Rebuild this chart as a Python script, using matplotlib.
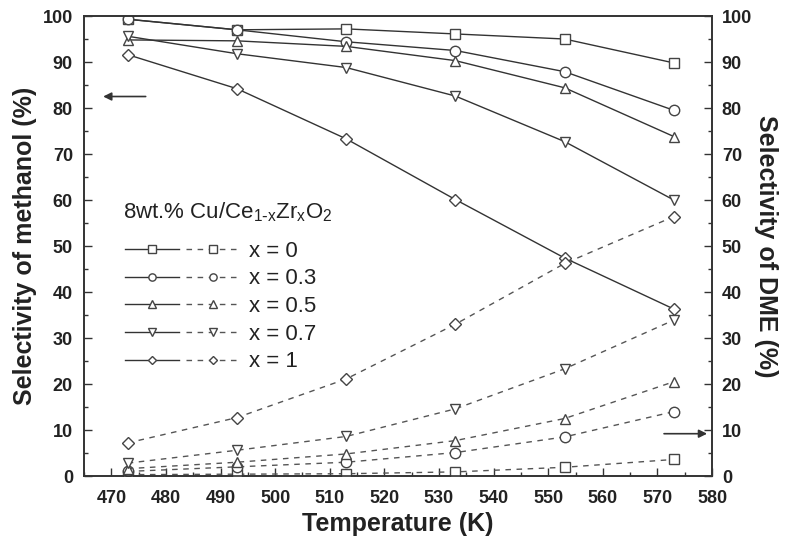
"""
Methanol / DME selectivity versus temperature for 8wt.% Cu/Ce(1-x)Zr(x)O2.
"""

import matplotlib
matplotlib.use("Agg")
import matplotlib.pyplot as plt
from matplotlib.legend_handler import HandlerTuple
from matplotlib.ticker import MultipleLocator

plt.rcParams["font.family"] = ["Liberation Sans", "DejaVu Sans"]
plt.rcParams["mathtext.default"] = "regular"

temperature = [473, 493, 513, 533, 553, 573]

x_labels = ["x = 0", "x = 0.3", "x = 0.5", "x = 0.7", "x = 1"]
markers = ["s", "o", "^", "v", "D"]

methanol_x0 = [99.3, 97.0, 97.2, 96.1, 95.0, 89.8]
methanol_x03 = [99.3, 97.0, 94.4, 92.5, 87.9, 79.5]
methanol_x05 = [94.8, 94.6, 93.4, 90.3, 84.4, 73.8]
methanol_x07 = [95.6, 91.8, 88.8, 82.6, 72.7, 60.0]
methanol_x1 = [91.6, 84.2, 73.3, 60.1, 47.4, 36.3]

dme_x0 = [0.3, 0.4, 0.5, 0.9, 1.9, 3.6]
dme_x03 = [1.0, 2.0, 3.0, 5.1, 8.5, 14.0]
dme_x05 = [1.6, 3.0, 4.8, 7.7, 12.5, 20.5]
dme_x07 = [2.8, 5.6, 8.6, 14.6, 23.3, 33.9]
dme_x1 = [7.2, 12.7, 21.1, 33.0, 46.2, 56.4]

methanol = [methanol_x0, methanol_x03, methanol_x05, methanol_x07, methanol_x1]
dme = [dme_x0, dme_x03, dme_x05, dme_x07, dme_x1]

LINE = "#333333"
DASH = "#555555"
EDGE = "#444444"
TEXT = "#222222"

fig = plt.figure(figsize=(7.86, 5.5), dpi=100)
ax = fig.add_axes([0.1069, 0.1345, 0.799, 0.8364])
ax2 = ax.twinx()

handles = []
for i in range(len(x_labels)):
    ms = 7.5 if markers[i] != "D" else 6.5
    solid, = ax.plot(temperature, methanol[i], "-", color=LINE, lw=1.0,
                     marker=markers[i], ms=ms, mfc="white", mec=EDGE, mew=1.0)
    dashed, = ax2.plot(temperature, dme[i], "--", color=DASH, lw=1.0,
                       dashes=(4, 4), marker=markers[i], ms=ms,
                       mfc="white", mec=EDGE, mew=1.0)
    handles.append((solid, dashed))

for a in (ax, ax2):
    a.set_xlim(465, 580)
    a.set_ylim(0, 100)
    a.yaxis.set_major_locator(MultipleLocator(10))
    a.yaxis.set_minor_locator(MultipleLocator(5))
    for s in a.spines.values():
        s.set_color(LINE)
        s.set_linewidth(1.2)

ax.xaxis.set_major_locator(MultipleLocator(10))
ax.xaxis.set_minor_locator(MultipleLocator(5))
ax.tick_params(axis="both", which="both", direction="in", colors=LINE,
               labelcolor=TEXT, labelsize=13, top=False, width=1.0)
ax.tick_params(which="major", length=6, pad=8)
ax.tick_params(axis="x", which="major", pad=10)
ax.tick_params(which="minor", length=3)
ax2.tick_params(axis="y", which="both", direction="in", colors=LINE,
                labelcolor=TEXT, labelsize=13, width=1.0)
ax2.tick_params(which="major", length=6, pad=7)
ax2.tick_params(which="minor", length=3)
for lab in ax.get_xticklabels() + ax.get_yticklabels() + ax2.get_yticklabels():
    lab.set_fontweight("bold")

ax.set_xlabel("Temperature (K)", fontsize=18, fontweight="bold",
              color=TEXT, labelpad=4)
ax.set_ylabel("Selectivity of methanol (%)", fontsize=18,
              fontweight="bold", color=TEXT, labelpad=4)
ax2.set_ylabel("Selectivity of DME (%)", fontsize=18, fontweight="bold",
               color=TEXT, rotation=270, labelpad=19)

# arrows pointing to the axis each family of curves belongs to
ax.annotate("", xy=(468.0, 82.5), xytext=(476.8, 82.5),
            arrowprops=dict(arrowstyle="-|>", color=LINE, lw=1.2,
                            mutation_scale=12))
ax2.annotate("", xy=(579.6, 9.2), xytext=(570.7, 9.2),
             arrowprops=dict(arrowstyle="-|>", color=LINE, lw=1.2,
                             mutation_scale=12))

# catalyst composition heading above the legend
ax2.text(0.062, 0.574, r"8wt.% Cu/Ce$_{1\text{-}x}$Zr$_x$O$_2$",
         transform=ax2.transAxes, fontsize=16, color=TEXT,
         ha="left", va="center")

leg = ax2.legend(handles, x_labels,
                 handler_map={tuple: HandlerTuple(ndivide=None, pad=0.3)},
                 loc="upper left", bbox_to_anchor=(0.033, 0.555),
                 frameon=False, fontsize=16,
                 handlelength=5.2, handletextpad=0.4, labelspacing=0.3,
                 markerscale=0.7)
for t in leg.get_texts():
    t.set_color(TEXT)

fig.savefig("out.png", dpi=100)
